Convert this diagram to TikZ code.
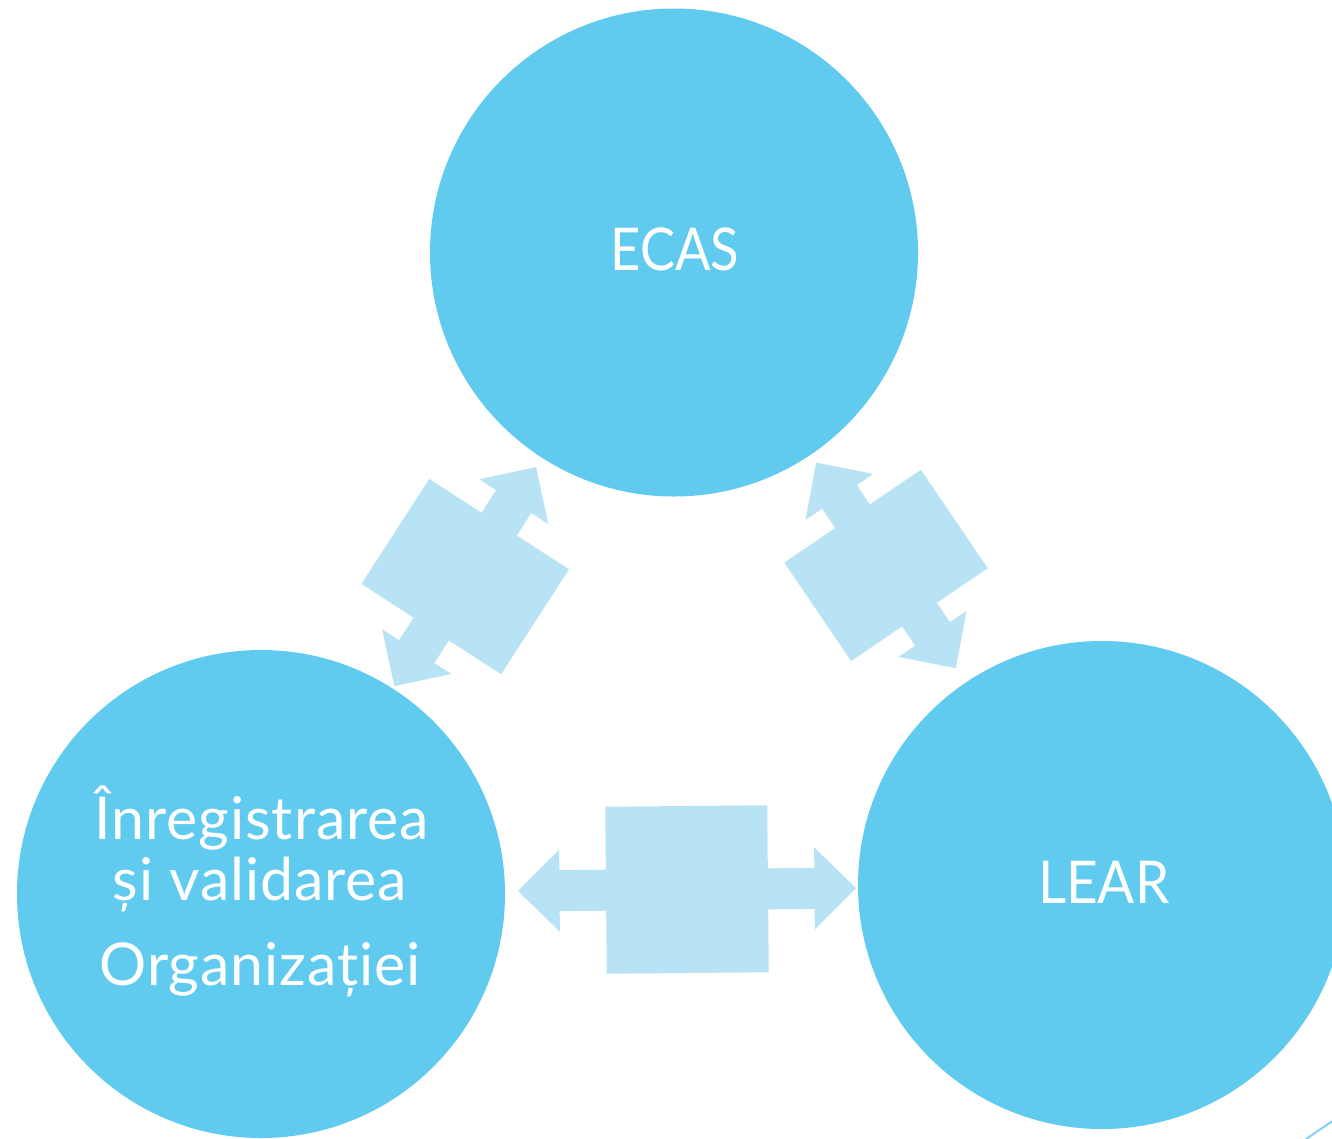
\documentclass[tikz,border=0pt]{standalone}
\usepackage{fontspec}
\setmainfont{Lato}
\newfontfamily\spacedlato[LetterSpace=1.6]{Lato}
\definecolor{circ}{HTML}{60CBEF}
\definecolor{arr}{HTML}{B7E3F5}
\definecolor{deco}{HTML}{7FD3F2}
% a b s h p t : body half-length, body half-width, shaft half-width, head half-width, barb position, tip position
\newcommand\DblArrowPath[6]{(#6,0) -- (#5,#4) -- (#5,#3) -- (#1,#3) -- (#1,#2) -- (-#1,#2) -- (-#1,#3) -- (-#5,#3) -- (-#5,#4) -- (-#6,0) -- (-#5,-#4) -- (-#5,-#3) -- (-#1,-#3) -- (-#1,-#2) -- (#1,-#2) -- (#1,-#3) -- (#5,-#3) -- (#5,-#4) -- cycle}
\begin{document}
\begin{tikzpicture}[x=1pt,y=-1pt,
  bubble/.style={circle, fill=circ, minimum size=488pt, inner sep=0pt},
  lbl/.style={text=white, font=\fontsize{59}{70}\selectfont, anchor=base, inner sep=0pt},
  lbls/.style={text=white, font=\spacedlato\fontsize{59}{70}\selectfont, anchor=base, inner sep=0pt},
  dblarrow/.style={fill=arr, draw=none}]
\useasboundingbox (0,0) rectangle (1332,1138);
\node[bubble] (ecas) at (674,252.5) {};
\node[bubble] (org) at (261,894) {};
\node[bubble] (lear) at (1102,885) {};
\begin{scope}[shift={(465.2,576.6)}, rotate=57.1]
\fill[dblarrow] \DblArrowPath{62.5}{83.2}{21}{41.25}{89.3}{130.4};
\end{scope}
\begin{scope}[shift={(886,565.4)}, rotate=124.2]
\fill[dblarrow] \DblArrowPath{59.5}{82.6}{21}{41}{82.8}{124.3};
\end{scope}
\begin{scope}[shift={(687,889.5)}, rotate=0.5]
\fill[dblarrow] \DblArrowPath{81}{83.5}{20.5}{41}{127.5}{169};
\end{scope}
\node[lbl] (t1) at (675,270.7) {\scalebox{0.89}[1]{ECAS}};
\node[lbl] (t2) at (1103.7,903.3) {\scalebox{0.93}[1]{LEAR}};
\node[lbls] (t3) at (261.7,839) {Înregistrarea};
\node[lbls] (t4) at (260,900) {și validarea};
\node[lbls] (t5) at (260,985) {Organizației};
\draw[deco, line width=2pt] (1306,1139) -- (1334,1120);
\end{tikzpicture}
\end{document}
